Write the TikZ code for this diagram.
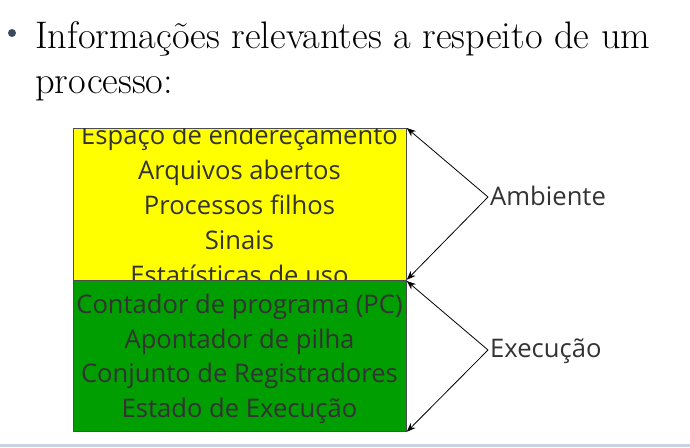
\documentclass[tikz,border=0pt]{standalone}
\usepackage{fontspec}
\newfontfamily\boxfont{Open Sans}
\usetikzlibrary{arrows.meta}
\definecolor{txtgray}{HTML}{333333}
\definecolor{bulletc}{HTML}{3C4A5E}
\definecolor{ylw}{HTML}{FFFF00}
\definecolor{grn}{HTML}{009E00}
\definecolor{barc}{HTML}{C8D2E1}
\tikzset{
  boxline/.style={font=\boxfont\fontsize{25.6}{25.6}\selectfont, text=txtgray, inner sep=0pt, anchor=base},
  lbl/.style={font=\boxfont\fontsize{25.6}{25.6}\selectfont, text=txtgray, inner sep=0pt, anchor=base west},
  hdr/.style={font=\fontsize{38.4}{38.4}\selectfont, inner sep=0pt, anchor=base west},
  conn/.style={draw=black, line width=0.8pt, -{Stealth[length=9pt,width=7pt]}},
  region/.style={draw=black!70, line width=0.8pt, inner sep=0pt}
}
\begin{document}
\begin{tikzpicture}[x=1pt,y=-1pt]
\useasboundingbox (0,0) rectangle (690,447);
\fill[barc] (0,444) rectangle (690,447);
% header
\node[fill=bulletc, circle, inner sep=0pt, minimum size=8pt] (bul) at (12,33) {};
\node[hdr] (h1) at (35,48) {Informações relevantes a respeito de um};
\node[hdr] (h2) at (35,93) {processo:};
% yellow box
\node[region, fill=ylw, minimum width=333pt, minimum height=152pt, anchor=north west] (ybox) at (73,128) {};
\begin{scope}
\clip (73,128) rectangle (406,280);
\node[boxline] (y1) at (239.5,144) {Espaço de endereçamento};
\node[boxline] (y2) at (239.5,179) {Arquivos abertos};
\node[boxline] (y3) at (239.5,214) {Processos filhos};
\node[boxline] (y4) at (239.5,249) {Sinais};
\node[boxline] (y5) at (239.5,284) {Estatísticas de uso};
\end{scope}
% green box
\node[region, fill=grn, minimum width=333pt, minimum height=151pt, anchor=north west] (gbox) at (73,280) {};
\node[boxline] (g1) at (239.5,313) {Contador de programa (PC)};
\node[boxline] (g2) at (239.5,348) {Apontador de pilha};
\node[boxline] (g3) at (239.5,382) {Conjunto de Registradores};
\node[boxline] (g4) at (239.5,417) {Estado de Execução};
% labels
\node[lbl] (amb) at (490,205) {Ambiente};
\node[lbl] (exe) at (490,357) {Execução};
\coordinate (ap) at (488,197);
\coordinate (ep) at (488,350);
\draw[conn] (ap) -- (ybox.north east);
\draw[conn] (ap) -- ([yshift=1pt]ybox.south east);
\draw[conn] (ep) -- ([yshift=-1pt]gbox.north east);
\draw[conn] (ep) -- (gbox.south east);
\end{tikzpicture}
\end{document}
